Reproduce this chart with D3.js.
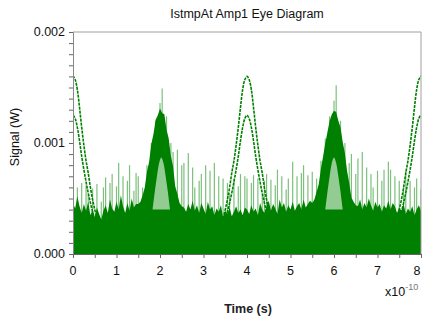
<!DOCTYPE html>
<html><head><meta charset="utf-8">
<script src="https://cdn.jsdelivr.net/npm/d3@7"></script>
<style>
html,body{margin:0;padding:0;background:#fff;}
svg{display:block;font-family:"Liberation Sans",Arial,sans-serif;}
</style></head>
<body><svg id="chart" width="422" height="317"></svg>
<script>
// ---- data (signal values in units of 1e-4 W) ----
const title = "IstmpAt Amp1 Eye Diagram";
const xLabel = "Time (s)";
const yLabel = "Signal (W)";
const xTicks = [0,1,2,3,4,5,6,7,8];
const yTicks = [0.000,0.001,0.002];
const sampleStep = 0.05; // time step (1e-10 s) between samples
const denseTop = [
 4.6,4.1,5.2,4.3,3.7,4.5,3.9,4.7,3.5,4.0,3.3,4.2,3.6,3.1,3.9,4.4,3.7,4.9,4.1,3.8,
 4.7,4.0,5.3,4.3,3.7,4.6,3.9,5.0,4.2,4.5,
 4.5,4.7,5.3,6.0,7.4,8.3,9.9,10.8,12.1,12.5,13.1,12.7,12.6,11.2,10.4,8.8,7.9,6.1,5.4,4.6,4.3,
 4.2,3.8,4.5,4.0,4.8,3.9,4.4,3.7,4.6,4.1,3.6,4.7,4.0,4.3,3.5,4.1,3.8,4.4,3.3,3.9,3.6,4.2,3.4,3.8,4.3,3.7,4.0,3.5,4.2,
 4.0,3.6,4.4,3.8,4.1,3.5,4.6,4.0,3.7,4.3,4.8,3.9,4.5,4.1,3.6,4.9,4.2,4.6,3.8,4.4,4.0,4.7,3.9,4.3,4.6,4.0,4.9,4.2,4.5,4.8,
 4.6,4.9,5.6,6.3,7.7,8.8,10.0,11.0,12.0,12.6,12.9,12.8,12.0,11.4,10.1,9.1,7.5,6.4,5.1,4.7,4.4,
 4.3,4.9,4.0,4.6,4.2,5.0,4.4,3.9,4.7,4.2,4.5,3.8,4.4,4.1,4.8,4.0,4.6,4.3,3.7,4.2,3.9,4.5,3.6,4.1,3.8,4.3,3.5,4.0,4.4,3.9
];
const lightTop = [
 5.8,3.0,6.0,3.0,6.4,3.0,6.2,5.4,3.0,5.9,3.0,6.3,3.0,4.7,6.0,6.9,3.0,6.4,7.2,3.0,
 6.1,8.2,3.0,7.0,3.0,6.6,8.0,3.0,5.7,7.3,
 7.0,3.0,6.0,3.0,8.0,3.0,10.0,3.0,12.0,3.0,13.6,14.9,3.0,12.4,3.0,10.0,9.2,3.0,9.4,3.0,8.0,
 8.2,3.0,9.1,3.0,7.8,6.0,3.0,6.6,7.2,3.0,8.0,3.0,7.5,3.0,8.2,3.0,7.0,3.0,6.8,3.0,6.4,5.5,3.0,6.8,3.0,6.1,7.2,3.0,7.0,
 6.8,3.0,6.4,7.1,3.0,6.8,3.0,5.4,6.6,7.2,3.0,6.7,3.0,6.2,7.6,3.0,7.0,3.0,5.8,6.8,3.0,8.3,3.0,7.0,3.0,7.3,8.0,3.0,7.1,3.0,
 7.4,3.0,6.8,3.0,8.4,3.0,10.4,3.0,12.4,3.0,13.8,15.2,3.0,12.0,3.0,10.0,3.0,8.2,9.0,3.0,7.2,
 8.6,3.0,9.2,3.0,7.8,3.0,7.2,6.0,3.0,7.5,3.0,6.6,7.6,3.0,8.3,7.6,3.0,7.0,3.0,6.6,3.0,6.2,7.5,3.0,6.6,3.0,6.0,6.8,3.0,5.8
];
// eye arcs ("1" levels) centred at these times
const arcCenters = [0,4,8];
const arcDt    = [-0.6,-0.55,-0.5,-0.45,-0.4,-0.35,-0.3,-0.25,-0.2,-0.15,-0.1,-0.05,0,0.05,0.1,0.15,0.2,0.25,0.3,0.35,0.4,0.45,0.5,0.55,0.6];
const arcUpper = [2.5,3.2,4.0,4.9,6.0,7.3,8.4,9.8,11.4,13.2,14.8,15.7,16.0,15.7,14.8,13.2,11.4,9.8,8.4,7.3,6.0,4.9,4.0,3.2,2.5];
const arcLower = [2.0,2.5,3.1,3.8,4.6,5.5,6.5,7.6,8.8,10.2,11.4,12.2,12.5,12.2,11.4,10.2,8.8,7.6,6.5,5.5,4.6,3.8,3.1,2.5,2.0];
// open eye inside the crossing bumps
const holeCenters = [2.03,6.0];
const holeDt   = [-0.2,-0.15,-0.1,-0.05,0,0.05,0.1,0.15,0.2];
const holeTop  = [4.0,5.6,7.0,8.2,8.7,8.2,7.0,5.6,4.0];
const holeBase = 4.0;

// ---- layout ----
const svg = d3.select("#chart");
const L = 73, R = 421, T = 32, B = 254;
const x = d3.scaleLinear().domain([0,8]).range([L,R]);
const y = d3.scaleLinear().domain([0,0.002]).range([B,T]);
const u = v => v*1e-4;
const green = "#008000";

svg.append("defs").append("clipPath").attr("id","plot")
  .append("rect").attr("x",L).attr("y",T).attr("width",R-L).attr("height",B-T);
const g = svg.append("g").attr("clip-path","url(#plot)");

// light traces
g.append("g").selectAll("line").data(lightTop).join("line")
  .attr("x1",(d,i)=>x(i*sampleStep)).attr("x2",(d,i)=>x(i*sampleStep))
  .attr("y1",y(0)).attr("y2",d=>y(u(d)))
  .attr("stroke","#7cc07c").attr("stroke-width",1.2);

// dense traces
g.append("path").datum(denseTop)
  .attr("d",d3.area().x((d,i)=>x(i*sampleStep)).y0(y(0)).y1(d=>y(u(d))))
  .attr("fill",green);

// open eye inside bumps
holeCenters.forEach(c=>{
  g.append("path").datum(holeDt)
    .attr("d",d3.area().curve(d3.curveCatmullRom)
      .x(d=>x(c+d)).y0(y(u(holeBase))).y1((d,i)=>y(u(holeTop[i]))))
    .attr("fill","#92cc92");
});

// arcs
const arcLine = d3.line().curve(d3.curveCatmullRom).x(d=>d[0]).y(d=>d[1]);
arcCenters.forEach(c=>{
  [arcUpper,arcLower].forEach(vals=>{
    const pts = arcDt.map((d,i)=>[x(c+d), y(u(vals[i]))]);
    g.append("path").attr("d",arcLine(pts))
      .attr("fill","none").attr("stroke",green).attr("stroke-width",1.6)
      .attr("stroke-dasharray","3,1");
  });
});

// frame
svg.append("path").attr("d",`M${L},${T}H${R}V${B}`).attr("fill","none").attr("stroke","#a0a0a0").attr("stroke-width",1);

// axes
const yAxis = svg.append("g").attr("transform",`translate(${L},0)`)
  .call(d3.axisLeft(y).tickValues(d3.range(0,21).map(i=>i*0.0001)).tickSize(4).tickFormat(""));
yAxis.select(".domain").attr("stroke","#888");
yAxis.selectAll(".tick line").attr("stroke","#666");
svg.append("g").selectAll("text").data(yTicks).join("text")
  .attr("x",L-8).attr("y",d=>y(d)).attr("dy","0.35em").attr("text-anchor","end")
  .attr("font-size",12.5).attr("fill","#111").text(d=>d.toFixed(3));

const xAxis = svg.append("g").attr("transform",`translate(0,${B})`)
  .call(d3.axisBottom(x).tickValues(d3.range(0,17).map(i=>i*0.5)).tickSize(4).tickFormat(""));
xAxis.select(".domain").attr("stroke","#666");
xAxis.selectAll(".tick line").attr("stroke","#666");
svg.append("g").selectAll("text").data(xTicks).join("text")
  .attr("x",d=>Math.min(x(d),417)).attr("y",275).attr("text-anchor","middle")
  .attr("font-size",12.5).attr("fill","#111").text(d=>d);

// labels
svg.append("text").attr("x",247).attr("y",18).attr("text-anchor","middle")
  .attr("font-size",12.5).attr("fill","#111").text(title);
svg.append("text").attr("x",248).attr("y",313).attr("text-anchor","middle")
  .attr("font-size",12.5).attr("font-weight","bold").attr("fill","#222").text(xLabel);
svg.append("text").attr("transform","translate(19,137) rotate(-90)").attr("text-anchor","middle")
  .attr("font-size",12.5).attr("fill","#111").text(yLabel);
const ex = svg.append("text").attr("x",385).attr("y",296).attr("font-size",12.5).attr("fill","#111");
ex.append("tspan").text("x10");
ex.append("tspan").attr("dy",-6).attr("font-size",9).attr("fill","#777").text("-10");
</script></body></html>
